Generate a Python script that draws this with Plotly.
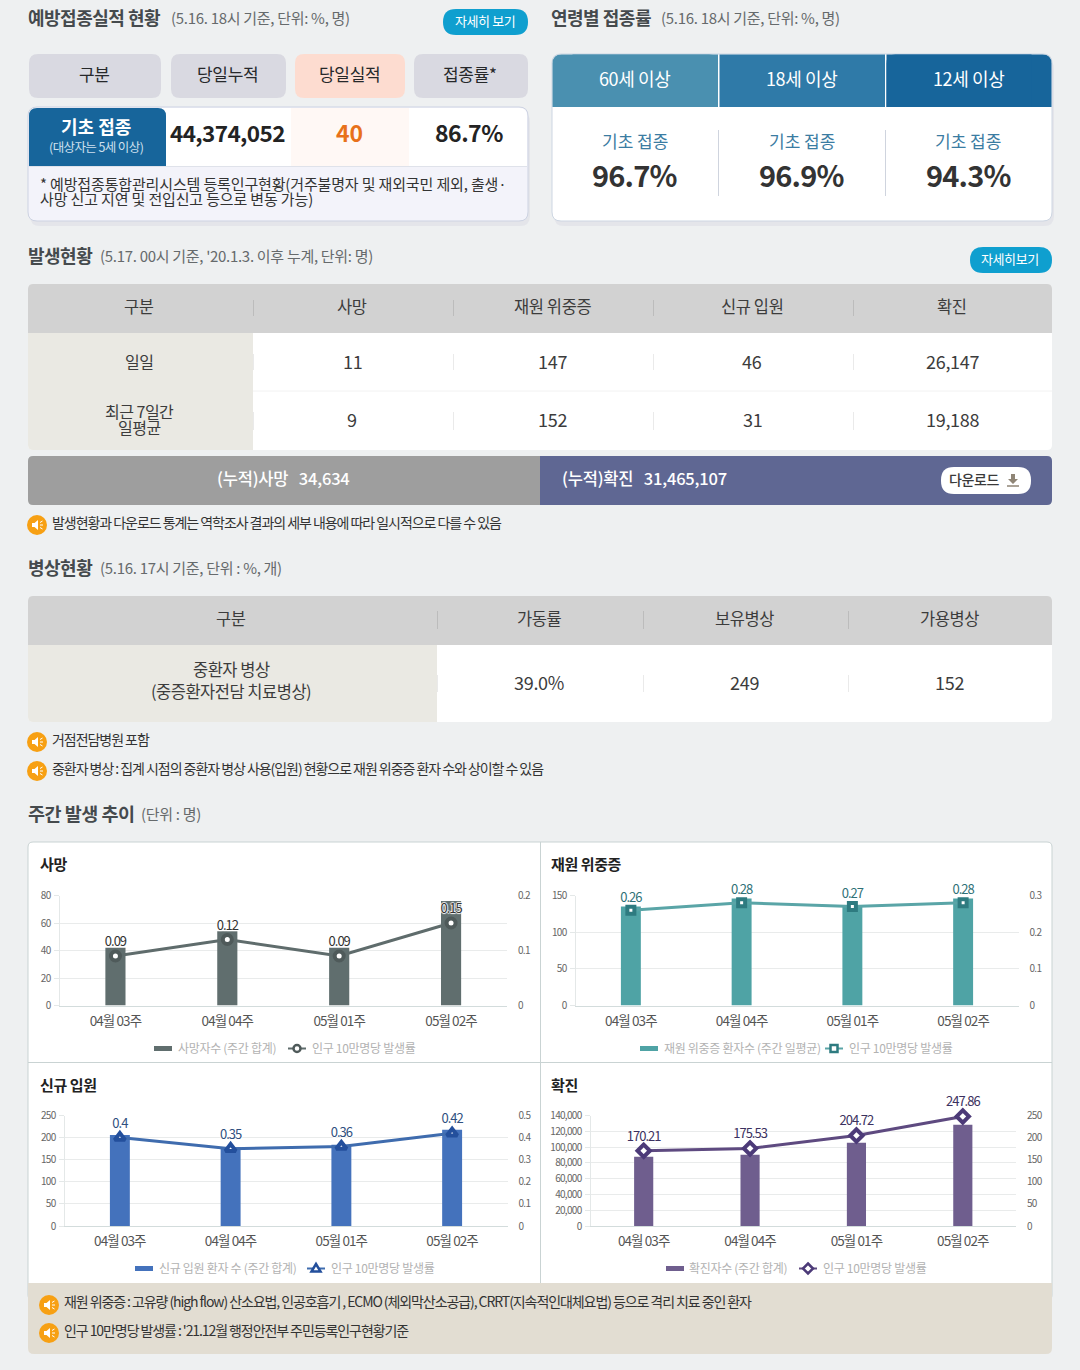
import plotly.graph_objects as go

W, H = 1080, 1370
FONT = 'Noto Sans CJK KR'

# 주간 발생 추이
WEEKS = ['04월 03주', '04월 04주', '05월 01주', '05월 02주']
DEATH_COUNT = [42, 54, 42, 76]
DEATH_RATE = [0.09, 0.12, 0.09, 0.15]
SEVERE_COUNT = [135, 146, 135, 146]
SEVERE_RATE = [0.26, 0.28, 0.27, 0.28]
ADMIT_COUNT = [206, 178, 184, 218]
ADMIT_RATE = [0.4, 0.35, 0.36, 0.42]
CASE_COUNT = [87700, 90200, 105400, 128200]
CASE_RATE = [170.21, 175.53, 204.72, 247.86]

DEATH_TICKS = [0, 20, 40, 60, 80]
DEATH_RATE_TICKS = [0, 0.1, 0.2]
SEVERE_TICKS = [0, 50, 100, 150]
SEVERE_RATE_TICKS = [0, 0.1, 0.2, 0.3]
ADMIT_TICKS = [0, 50, 100, 150, 200, 250]
ADMIT_RATE_TICKS = [0, 0.1, 0.2, 0.3, 0.4, 0.5]
CASE_TICKS = [0, 20000, 40000, 60000, 80000, 100000, 120000, 140000]
CASE_RATE_TICKS = [0, 50, 100, 150, 200, 250]

# 예방접종
VAX_HEAD = ['구분', '당일누적', '당일실적', '접종률*']
VAX_VALUES = ['44,374,052', '40', '86.7%']
AGE_GROUPS = ['60세 이상', '18세 이상', '12세 이상']
AGE_RATES = ['96.7%', '96.9%', '94.3%']

# 발생현황
CASE_HEAD = ['구분', '사망', '재원 위중증', '신규 입원', '확진']
CASE_ROW_NAMES = ['일일', '최근 7일간\n일평균']
CASE_ROWS = [['11', '147', '46', '26,147'], ['9', '152', '31', '19,188']]

# 병상현황
BED_HEAD = ['구분', '가동률', '보유병상', '가용병상']
BED_NAME = '중환자 병상\n(중증환자전담 치료병상)'
BED_ROW = ['39.0%', '249', '152']

shapes = []
notes = []


def fx(x):
    return x / W


def fy(y):
    return 1 - y / H


def box(x0, y0, x1, y1, fill, line=None, r=0, top=True, bottom=True):
    rt = r if top else 0
    rb = r if bottom else 0
    path = (
        f'M{fx(x0 + rt)},{fy(y0)} L{fx(x1 - rt)},{fy(y0)} Q{fx(x1)},{fy(y0)} {fx(x1)},{fy(y0 + rt)} '
        f'L{fx(x1)},{fy(y1 - rb)} Q{fx(x1)},{fy(y1)} {fx(x1 - rb)},{fy(y1)} '
        f'L{fx(x0 + rb)},{fy(y1)} Q{fx(x0)},{fy(y1)} {fx(x0)},{fy(y1 - rb)} '
        f'L{fx(x0)},{fy(y0 + rt)} Q{fx(x0)},{fy(y0)} {fx(x0 + rt)},{fy(y0)} Z'
    )
    shapes.append(dict(type='path', path=path, xref='paper', yref='paper', fillcolor=fill,
                       line=dict(color=line or fill, width=1 if line else 0), layer='below'))


def seg(x0, y0, x1, y1, color, width=1):
    shapes.append(dict(type='line', xref='paper', yref='paper', x0=fx(x0), y0=fy(y0), x1=fx(x1), y1=fy(y1),
                       line=dict(color=color, width=width), layer='below'))


def poly(points, fill, line=None, width=1):
    path = 'M' + ' L'.join(f'{fx(x)},{fy(y)}' for x, y in points) + ' Z'
    shapes.append(dict(type='path', path=path, xref='paper', yref='paper', fillcolor=fill,
                       line=dict(color=line or fill, width=width if line else 0), layer='below'))


def dot(cx, cy, r, fill, line=None, width=0):
    shapes.append(dict(type='circle', xref='paper', yref='paper', x0=fx(cx - r), y0=fy(cy - r), x1=fx(cx + r),
                       y1=fy(cy + r), fillcolor=fill, line=dict(color=line or fill, width=width), layer='below'))


def text(x, y, s, size=14, color='#333333', anchor='left', weight=400, track=0):
    if track:
        s = f'<span style="letter-spacing:{track}px">{s}</span>'
    # 글자 위치가 1px 남짓 아래로 밀려서 보정
    notes.append(dict(x=fx(x - 0.7), y=fy(y - 1.3), xref='paper', yref='paper', text=s, showarrow=False, xanchor=anchor,
                      yanchor='middle', borderpad=0, font=dict(family=FONT, size=size, color=color, weight=weight)))


def lines(x, y, s, gap, **kw):
    parts = s.split('\n')
    y0 = y - gap * (len(parts) - 1) / 2
    for i, part in enumerate(parts):
        text(x, y0 + i * gap, part, **kw)


def section(x, y, title, sub, sub_x, size=18):
    text(x, y, title, size=size, color='#454a4d', weight=700, track=-0.5)
    text(sub_x, y + 0.5, sub, size=15, color='#666a6c', track=-0.3)


def speaker(cx, cy):
    dot(cx, cy, 10, '#f7a013')
    poly([(cx - 5, cy - 2), (cx - 2.5, cy - 2), (cx + 1, cy - 5), (cx + 1, cy + 5), (cx - 2.5, cy + 2), (cx - 5, cy + 2)], '#ffffff')
    seg(cx + 3, cy, cx + 6, cy, '#ffffff', 1)
    seg(cx + 3, cy - 2.5, cx + 5.5, cy - 4, '#ffffff', 1)
    seg(cx + 3, cy + 2.5, cx + 5.5, cy + 4, '#ffffff', 1)


def pill(x0, y0, x1, y1, label, size=13):
    box(x0, y0, x1, y1, '#0f9fcf', r=(y1 - y0) / 2)
    text((x0 + x1) / 2, (y0 + y1) / 2 - 0.5, label, size=size, color='#ffffff', anchor='center', track=-0.4)


# 예방접종실적
section(28, 18.5, '예방접종실적 현황', '(5.16. 18시 기준, 단위: %, 명)', 171)
pill(443, 9, 528, 35, '자세히 보기')
vax_cols = [(29, 161), (171, 286), (295, 405), (414, 528)]
for (x0, x1), label in zip(vax_cols, VAX_HEAD):
    box(x0, 54, x1, 98, '#fddcd0' if label == '당일실적' else '#d9d9e1', r=9)
    text((x0 + x1) / 2, 74.5, label, size=17, color='#26282a', anchor='center', track=-0.3)

box(30, 112, 530, 226, '#e4e5ea', r=10)
box(28, 107, 528, 221, '#f3f3fa', line='#cdd3e2', r=9)
box(29, 108, 527, 166, '#ffffff', r=8, bottom=False)
box(29, 108, 166, 166, '#17659b', r=8, bottom=False)
box(291, 108, 409, 166, '#fff8f5')
seg(29, 166.5, 527, 166.5, '#dfe2ea')
text(97, 127, '기초 접종', size=18, color='#ffffff', anchor='center', weight=700)
text(97, 148, '(대상자는 5세 이상)', size=12.5, color='#cfe0ee', anchor='center', track=-0.6)
text(228.5, 133, VAX_VALUES[0], size=22.5, color='#232323', anchor='center', weight=700, track=-0.6)
text(350.5, 133, VAX_VALUES[1], size=23, color='#e8711a', anchor='center', weight=700)
text(469.5, 133, VAX_VALUES[2], size=23, color='#232323', anchor='center', weight=700, track=-0.5)
text(40, 185, '* 예방접종통합관리시스템 등록인구현황(거주불명자 및 재외국민 제외, 출생·', size=15, color='#333333', track=-0.15)
text(40, 200, '사망 신고 지연 및 전입신고 등으로 변동 가능)', size=15, color='#333333', track=-0.15)

# 연령별 접종률
section(551, 18.5, '연령별 접종률', '(5.16. 18시 기준, 단위: %, 명)', 661)
box(554, 59, 1054, 226, '#e4e5ea', r=10)
box(552, 54, 1052, 221, '#ffffff', line='#cdd6e2', r=9)
age_fill = ['#4a90b0', '#2f7aa8', '#17659b']
age_cols = [(552.5, 718), (719.5, 885), (886.5, 1051.5)]
for i, label in enumerate(AGE_GROUPS):
    x0, x1 = age_cols[i]
    box(x0, 54.5, x1, 107, age_fill[i], r=9 if i != 1 else 0, bottom=False)
    if i == 0:
        box(x0 + 20, 54.5, x1, 107, age_fill[i])
    if i == 2:
        box(x0, 54.5, x1 - 20, 107, age_fill[i])
    cx = (x0 + x1) / 2
    text(cx, 79, label, size=18, color='#ffffff', anchor='center', track=-0.4)
    text(cx, 142, '기초 접종', size=17, color='#3b7ca2', anchor='center')
    text(cx, 175, AGE_RATES[i], size=29, color='#333333', anchor='center', weight=700, track=-0.8)
seg(718.5, 130, 718.5, 196, '#cfd4de')
seg(885.5, 130, 885.5, 196, '#cfd4de')

# 발생현황
section(28, 256, '발생현황', "(5.17. 00시 기준, '20.1.3. 이후 누계, 단위: 명)", 100)
pill(970, 247, 1052, 273, '자세히보기')
box(28, 284, 1052, 450, '#ffffff', r=5)
box(28, 284, 1052, 333, '#d2d2d2', r=5, bottom=False)
box(28, 333, 253, 450, '#eae9e3', r=5, top=False)
box(200, 333, 253, 450, '#eae9e3')
seg(253, 391, 1052, 391, '#f2f2f2')
case_x = [140, 353, 553, 753, 953]
for x in [253, 453, 653, 853]:
    seg(x + 0.5, 300, x + 0.5, 316, '#bcbcbc')
    seg(x + 0.5, 354, x + 0.5, 370, '#eaeaea')
    seg(x + 0.5, 412, x + 0.5, 430, '#eaeaea')
for x, label in zip(case_x, CASE_HEAD):
    text(x, 307, label, size=16.5, color='#3c3c3c', anchor='center', track=-0.4)
for y, name, row in zip([362, 420], CASE_ROW_NAMES, CASE_ROWS):
    lines(140, y, name, 16, size=16, color='#3c3c3c', anchor='center', track=-0.5)
    for x, value in zip(case_x[1:], row):
        text(x, y + 0.5, value, size=18, color='#3c3c3c', anchor='center', track=-0.3)

box(28, 456, 560, 505, '#9e9e9e', r=5)
box(540, 456, 1052, 505, '#5f6793', r=5)
box(540, 456, 560, 505, '#5f6793')
text(284, 479.5, '(누적)사망&nbsp;&nbsp;&nbsp;34,634', size=16.5, color='#ffffff', anchor='center', weight=500, track=-0.2)
text(562, 479.5, '(누적)확진&nbsp;&nbsp;&nbsp;31,465,107', size=16.5, color='#ffffff', weight=500, track=-0.2)
box(941, 467, 1031, 494, '#ffffff', r=13)
text(975, 480, '다운로드', size=14, color='#3a3a3a', anchor='center', weight=500, track=-0.4)
poly([(1011, 474), (1015, 474), (1015, 479), (1018, 479), (1013, 484), (1008, 479), (1011, 479)], '#8f8576')
seg(1007, 486, 1019, 486, '#8f8576', 1.5)
speaker(37, 525)
text(52, 523.5, '발생현황과 다운로드 통계는 역학조사 결과의 세부 내용에 따라 일시적으로 다를 수 있음', size=14, track=-1.05)

# 병상현황
section(28, 568, '병상현황', '(5.16. 17시 기준, 단위 : %, 개)', 100)
box(28, 596, 1052, 722, '#ffffff', r=5)
box(28, 596, 1052, 645, '#d2d2d2', r=5, bottom=False)
box(28, 645, 437, 722, '#eae9e3', r=5, top=False)
box(380, 645, 437, 722, '#eae9e3')
bed_x = [232, 540, 745, 950]
for x in [437, 643, 848]:
    seg(x + 0.5, 611, x + 0.5, 629, '#bcbcbc')
    seg(x + 0.5, 675, x + 0.5, 692, '#eaeaea')
for x, label in zip(bed_x, BED_HEAD):
    text(x, 619, label, size=16.5, color='#3c3c3c', anchor='center', track=-0.4)
lines(232, 681, BED_NAME, 22, size=16.5, color='#3c3c3c', anchor='center', track=-0.5)
for x, value in zip(bed_x[1:], BED_ROW):
    text(x, 683.5, value, size=18, color='#3c3c3c', anchor='center', track=-0.3)
speaker(37, 742)
text(52, 740.5, '거점전담병원 포함', size=14, track=-1.05)
speaker(37, 771)
text(52, 769.5, '중환자 병상 : 집계 시점의 중환자 병상 사용(입원) 현황으로 재원 위중증 환자 수와 상이할 수 있음', size=14, track=-1.05)

# 주간 발생 추이 카드
section(28, 814, '주간 발생 추이', '(단위 : 명)', 141, size=18.5)
box(28, 842, 1052, 1300, '#ffffff', line='#c9d3d3', r=5)
seg(540.5, 842, 540.5, 1283, '#c9d3d3')
seg(28, 1062.5, 1052, 1062.5, '#c9d3d3')
box(28, 1283, 1052, 1354, '#e2ddd2', r=6, top=False)
speaker(49, 1305)
text(64, 1302.5, '재원 위중증 : 고유량 (high flow) 산소요법, 인공호흡기 , ECMO (체외막산소공급), CRRT(지속적인대체요법) 등으로 격리 치료 중인 환자', size=14, track=-1.08)
speaker(49, 1333)
text(64, 1331.5, "인구 10만명당 발생률 : '21.12월 행정안전부 주민등록인구현황기준", size=14, track=-1.08)

charts = [
    dict(title='사망', tx=40, ty=865, left=59.5, right=507, top=895.5, bottom=1005.5, counts=DEATH_COUNT, rates=DEATH_RATE,
         ticks=DEATH_TICKS, rticks=DEATH_RATE_TICKS, bar='#606e6e', line='#5f6c6c', marker='#4f5a5a', label='#333333',
         symbol='circle', msize=9, mline=4, legend=['사망자수 (주간 합계)', '인구 10만명당 발생률'], lx=[154, 178, 288, 312], ly=1048.5),
    dict(title='재원 위중증', tx=551, ty=865, left=575.5, right=1018.5, top=895.5, bottom=1005.5, counts=SEVERE_COUNT, rates=SEVERE_RATE,
         ticks=SEVERE_TICKS, rticks=SEVERE_RATE_TICKS, bar='#4fa3a5', line='#5aa5a7', marker='#2e7b80', label='#2f7177',
         symbol='square', msize=7, mline=4, legend=['재원 위중증 환자수 (주간 일평균)', '인구 10만명당 발생률'], lx=[640, 664, 825, 849], ly=1048.5),
    dict(title='신규 입원', tx=40, ty=1086, left=64.5, right=507.5, top=1115.5, bottom=1226, counts=ADMIT_COUNT, rates=ADMIT_RATE,
         ticks=ADMIT_TICKS, rticks=ADMIT_RATE_TICKS, bar='#4472bc', line='#3f6cae', marker='#234f9c', label='#2f5080',
         symbol='triangle-up', msize=9, mline=4, legend=['신규 입원 환자 수 (주간 합계)', '인구 10만명당 발생률'], lx=[135, 159, 307, 331], ly=1268.5),
    dict(title='확진', tx=551, ty=1086, left=590.5, right=1016, top=1115.5, bottom=1226, counts=CASE_COUNT, rates=CASE_RATE,
         ticks=CASE_TICKS, rticks=CASE_RATE_TICKS, bar='#6f5e8e', line='#5e4a80', marker='#4c3a78', label='#3b3160',
         symbol='diamond', msize=9.5, mline=4, legend=['확진자수 (주간 합계)', '인구 10만명당 발생률'], lx=[666, 689, 799, 823], ly=1268.5),
]

fig = go.Figure()
axes = {}
for i, c in enumerate(charts):
    n = i + 1
    xa, ya, ra = f'x{n}', f'y{2 * n - 1}', f'y{2 * n}'
    fig.add_trace(go.Bar(x=WEEKS, y=c['counts'], xaxis=xa, yaxis=ya, width=0.18, marker=dict(color=c['bar'], line=dict(width=0)),
                         name=c['legend'][0], hoverinfo='skip'))
    fig.add_trace(go.Scatter(x=WEEKS, y=c['rates'], xaxis=xa, yaxis=ra, mode='lines+markers+text', name=c['legend'][1],
                             line=dict(color=c['line'], width=3),
                             marker=dict(symbol=c['symbol'], size=c['msize'], color='#ffffff', line=dict(color=c['marker'], width=c['mline'])),
                             text=[str(v) for v in c['rates']], textposition='top center', cliponaxis=False,
                             textfont=dict(family=FONT, size=13, color=c['label'],
                                           shadow='1px 0 1px #fff, -1px 0 1px #fff, 0 1px 1px #fff, 0 -1px 1px #fff')))
    axes[f'xaxis{n}'] = dict(domain=[fx(c['left']), fx(c['right'])], anchor=ya, type='category', range=[-0.5, 3.5], showgrid=False,
                             showline=True, linecolor='#d3dcdc', linewidth=1, ticks='', fixedrange=True, ticklabelstandoff=3,
                             tickfont=dict(family=FONT, size=13.5, color='#555555'))
    axes[f'yaxis{2 * n - 1}'] = dict(domain=[fy(c['bottom']), fy(c['top'])], anchor=xa, range=[c['ticks'][0], c['ticks'][-1]], tickvals=c['ticks'],
                                     tickformat=',d', gridcolor='#e9ebeb', gridwidth=1, zeroline=False, showline=True, linecolor='#e4e8e8',
                                     ticks='outside', ticklen=5, tickcolor='#e4e8e8', ticklabelstandoff=1, fixedrange=True,
                                     tickfont=dict(family=FONT, size=10, color='#666666'))
    axes[f'yaxis{2 * n}'] = dict(domain=[fy(c['bottom']), fy(c['top'])], anchor=xa, overlaying=ya, side='right', range=[c['rticks'][0], c['rticks'][-1]],
                                 tickvals=c['rticks'], showgrid=False, zeroline=False, showline=False, ticks='', ticklabelstandoff=10, fixedrange=True,
                                 tickfont=dict(family=FONT, size=10, color='#666666'))
    # 제목과 범례
    text(c['tx'], c['ty'], c['title'], size=15, color='#222222', weight=700, track=-0.4)
    lx, ly = c['lx'], c['ly']
    seg(lx[0], ly, lx[0] + 18, ly, c['bar'], 5)
    text(lx[1], ly, c['legend'][0], size=12, color='#b2b2b2', track=-0.3)
    seg(lx[2], ly, lx[2] + 18, ly, c['line'], 2)
    mx = lx[2] + 9
    if c['symbol'] == 'circle':
        dot(mx, ly, 3.5, '#ffffff', c['marker'], 2.5)
    elif c['symbol'] == 'square':
        poly([(mx - 3.5, ly - 3.5), (mx + 3.5, ly - 3.5), (mx + 3.5, ly + 3.5), (mx - 3.5, ly + 3.5)], '#ffffff', c['marker'], 2.5)
    elif c['symbol'] == 'triangle-up':
        poly([(mx, ly - 4.5), (mx + 4.5, ly + 3), (mx - 4.5, ly + 3)], '#ffffff', c['marker'], 2.5)
    else:
        poly([(mx, ly - 5), (mx + 5, ly), (mx, ly + 5), (mx - 5, ly)], '#ffffff', c['marker'], 2.5)
    text(lx[3], ly, c['legend'][1], size=12, color='#b2b2b2', track=-0.3)

fig.update_layout(
    width=W, height=H, margin=dict(l=0, r=0, t=0, b=0, autoexpand=False), paper_bgcolor='#eef0f1', plot_bgcolor='rgba(0,0,0,0)',
    showlegend=False, barmode='overlay', font=dict(family=FONT), shapes=shapes, annotations=notes, **axes
)

css = ('[class^=x][class$=tick] text{letter-spacing:-.9px}[class^=y][class$=tick] text{letter-spacing:-.7px}.textpoint text{letter-spacing:-1px}')
post = ("document.body.style.margin='0';document.body.style.background='#eef0f1';"
        f"var s=document.createElement('style');s.textContent='{css}';document.head.appendChild(s);")
fig.write_html('out.html', post_script=post, config=dict(displayModeBar=False))
